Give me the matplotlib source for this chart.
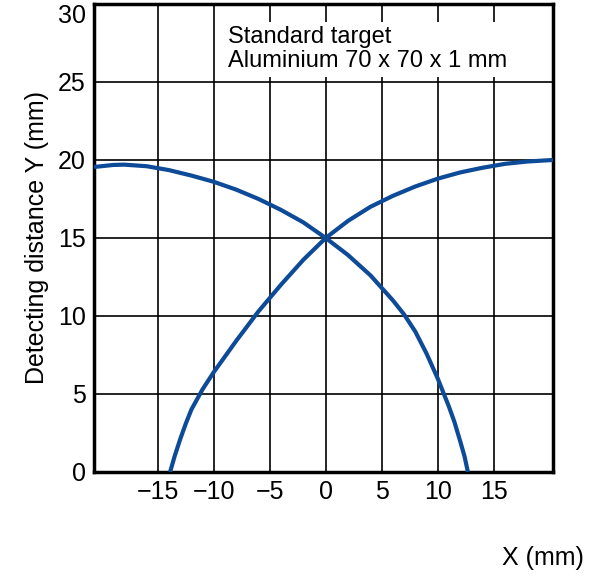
import matplotlib.pyplot as plt

# curve descending to the right
xa = [-20.7, -19, -18, -16, -14, -12, -10, -8, -6, -4, -2, 0, 2, 4, 6, 7, 8, 9, 10, 11, 11.5, 12.0, 12.4, 12.7]
ya = [19.55, 19.68, 19.7, 19.6, 19.35, 19.0, 18.6, 18.1, 17.5, 16.8, 16.0, 15.0, 13.9, 12.6, 11.0, 10.1, 9.0, 7.6, 6.0, 4.2, 3.2, 2.0, 1.0, 0.0]
# curve rising to the right
xb = [-13.9, -13.5, -13.0, -12.5, -12, -11, -10, -9, -8, -6, -4, -2, 0, 2, 4, 6, 8, 10, 12, 14, 16, 18, 20.3]
yb = [0.0, 1.0, 2.1, 3.1, 4.0, 5.3, 6.4, 7.4, 8.4, 10.3, 12.0, 13.6, 15.0, 16.1, 17.0, 17.7, 18.3, 18.8, 19.2, 19.5, 19.75, 19.9, 20.0]

xticks = [-15, -10, -5, 0, 5, 10, 15]
yticks = [0, 5, 10, 15, 20, 25, 30]

plt.rcParams['font.family'] = ['Liberation Sans', 'DejaVu Sans']
fig = plt.figure(figsize=(5.93, 5.76), dpi=100)
ax = fig.add_axes([0.1585, 0.1806, 0.774, 0.8125])

ax.plot(xa, ya, color='#0d4b98', lw=3, solid_capstyle='butt', zorder=3)
ax.plot(xb, yb, color='#0d4b98', lw=3, solid_capstyle='butt', zorder=3)

ax.set_xlim(-20.7, 20.3)
ax.set_ylim(0, 30)
ax.set_xticks(xticks)
ax.set_xticklabels(['\u2212' + str(-t) if t < 0 else str(t) for t in xticks])
ax.set_yticks(yticks)
ax.tick_params(length=0, labelsize=18, pad=6)
ax.get_yticklabels()[-1].set_va('top')
ax.grid(True, color='black', lw=1.2)
ax.set_axisbelow(True)
for s in ax.spines.values():
    s.set_linewidth(2.5)

ax.set_ylabel('Detecting distance Y (mm)', fontsize=18, labelpad=6)
fig.text(0.985, 0.01, 'X (mm)', fontsize=18, ha='right', va='bottom')

ax.text(-8.7, 28.6, 'Standard target\nAluminium 70 x 70 x 1 mm', fontsize=17,
        va='top', ha='left', linespacing=1.15,
        bbox=dict(facecolor='white', edgecolor='none', pad=3), zorder=4)

fig.savefig('out.png', dpi=100)
